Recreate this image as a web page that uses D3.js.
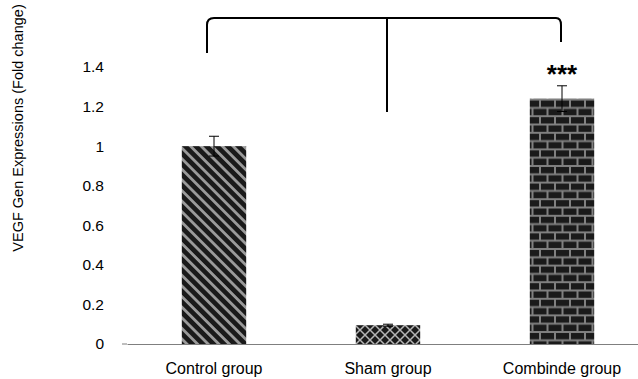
<!doctype html>
<html>
  <head>
    <meta charset="utf-8" />
    <title>VEGF Gen Expressions</title>
    <style>
      body { margin: 0; background: #fff; }
      svg text { font-family: "Liberation Sans", Arial, sans-serif; fill: #000; }
    </style>
  </head>
  <body>
    <svg id="chart" width="638" height="379"></svg>

    <script src="https://d3js.org/d3.v7.min.js"></script>
    <script>
      // chart data
      const groups = ['Control group', 'Sham group', 'Combinde group'];
      const values = [1.0, 0.095, 1.24];
      const errors = [0.05, 0.005, 0.065];
      const patterns = ['stripes', 'cross', 'bricks'];
      const yTicks = [0, 0.2, 0.4, 0.6, 0.8, 1, 1.2, 1.4];
      const yTitle = 'VEGF Gen Expressions (Fold change)';
      const marker = '***';

      const svg = d3.select('#chart');

      const x = d3.scaleBand()
        .domain(groups)
        .range([127, 649])
        .paddingInner(0.63)
        .paddingOuter(0.315);

      const y = d3.scaleLinear()
        .domain([0, 1.4])
        .range([344, 67]);

      // fill patterns
      const defs = svg.append('defs');

      const stripes = defs.append('pattern')
        .attr('id', 'stripes')
        .attr('patternUnits', 'userSpaceOnUse')
        .attr('width', 7.5).attr('height', 10)
        .attr('patternTransform', 'rotate(-45)');
      stripes.append('rect').attr('width', 7.5).attr('height', 10).attr('fill', '#1a1a1a');
      stripes.append('rect').attr('x', 0).attr('width', 2.8).attr('height', 10).attr('fill', '#9a9a9a');

      const cross = defs.append('pattern')
        .attr('id', 'cross')
        .attr('patternUnits', 'userSpaceOnUse')
        .attr('width', 10).attr('height', 10);
      cross.append('rect').attr('width', 10).attr('height', 10).attr('fill', '#1a1a1a');
      cross.append('path')
        .attr('d', 'M0,0L10,10M10,0L0,10')
        .attr('stroke', '#b5b5b5').attr('stroke-width', 1.5);

      const bricks = defs.append('pattern')
        .attr('id', 'bricks')
        .attr('patternUnits', 'userSpaceOnUse')
        .attr('width', 15).attr('height', 16.6);
      bricks.append('rect').attr('width', 15).attr('height', 16.6).attr('fill', '#808080');
      bricks.append('rect').attr('x', 1).attr('y', 1).attr('width', 13).attr('height', 6.3).attr('fill', '#1a1a1a');
      bricks.append('rect').attr('x', -6.5).attr('y', 9.3).attr('width', 13).attr('height', 6.3).attr('fill', '#1a1a1a');
      bricks.append('rect').attr('x', 8.5).attr('y', 9.3).attr('width', 13).attr('height', 6.3).attr('fill', '#1a1a1a');

      // bars
      svg.selectAll('rect.bar')
        .data(groups)
        .join('rect')
        .attr('class', 'bar')
        .attr('x', d => x(d))
        .attr('y', (d, i) => y(values[i]))
        .attr('width', x.bandwidth())
        .attr('height', (d, i) => y(0) - y(values[i]))
        .attr('fill', (d, i) => `url(#${patterns[i]})`);

      // error bars
      const eb = svg.selectAll('g.err')
        .data(groups)
        .join('g')
        .attr('class', 'err')
        .attr('stroke', '#000')
        .attr('stroke-width', 1);
      eb.append('line')
        .attr('x1', d => x(d) + x.bandwidth() / 2)
        .attr('x2', d => x(d) + x.bandwidth() / 2)
        .attr('y1', (d, i) => y(values[i] + errors[i]))
        .attr('y2', (d, i) => y(values[i] - errors[i]));
      eb.append('line')
        .attr('x1', d => x(d) + x.bandwidth() / 2 - 5)
        .attr('x2', d => x(d) + x.bandwidth() / 2 + 5)
        .attr('y1', (d, i) => y(values[i] + errors[i]))
        .attr('y2', (d, i) => y(values[i] + errors[i]));
      eb.append('line')
        .attr('x1', d => x(d) + x.bandwidth() / 2 - 5)
        .attr('x2', d => x(d) + x.bandwidth() / 2 + 5)
        .attr('y1', (d, i) => y(values[i] - errors[i]))
        .attr('y2', (d, i) => y(values[i] - errors[i]));

      // x axis
      const xAxis = svg.append('g')
        .attr('transform', `translate(0,${y(0)})`)
        .call(d3.axisBottom(x).tickSize(0).tickPadding(19));
      xAxis.select('.domain').attr('stroke', '#7f7f7f').attr('stroke-width', 1.2);
      xAxis.selectAll('text').attr('font-size', 16).attr('fill', '#000');

      // y axis labels (no line)
      const yAxis = svg.append('g')
        .attr('transform', 'translate(104,0)')
        .call(d3.axisLeft(y).tickValues(yTicks).tickSize(0).tickPadding(0)
          .tickFormat(d3.format('~g')));
      yAxis.select('.domain').remove();
      yAxis.selectAll('text').attr('font-size', 15.5).attr('fill', '#000');

      // small tick at zero
      svg.append('line')
        .attr('x1', 122).attr('x2', 127)
        .attr('y1', y(0)).attr('y2', y(0))
        .attr('stroke', '#7f7f7f');

      // y title
      svg.append('text')
        .attr('transform', `translate(23,128) rotate(-90)`)
        .attr('text-anchor', 'middle')
        .attr('font-size', 14.5)
        .text(yTitle);

      // significance bracket
      const cx = groups.map(d => x(d) + x.bandwidth() / 2);
      const br = d3.path();
      br.moveTo(cx[0] - 7, 53);
      br.lineTo(cx[0] - 7, 25);
      br.quadraticCurveTo(cx[0] - 7, 18, cx[0], 18);
      br.lineTo(cx[2] - 6, 18);
      br.quadraticCurveTo(cx[2] - 1, 18, cx[2] - 1, 25);
      br.lineTo(cx[2] - 1, 42);
      br.moveTo(cx[1] - 1, 18);
      br.lineTo(cx[1] - 1, 112);
      svg.append('path')
        .attr('d', br.toString())
        .attr('fill', 'none')
        .attr('stroke', '#000')
        .attr('stroke-width', 2);

      svg.append('text')
        .attr('x', cx[2])
        .attr('y', 83)
        .attr('text-anchor', 'middle')
        .attr('font-size', 26)
        .attr('font-weight', 'bold')
        .text(marker);
    </script>
  </body>
</html>
